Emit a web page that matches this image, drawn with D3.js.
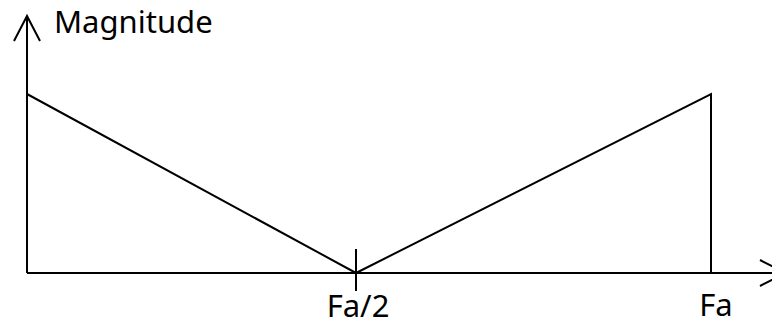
<!DOCTYPE html>
<html>
<head>
<meta charset="utf-8">
<script src="https://cdn.jsdelivr.net/npm/d3@7"></script>
<style>
  body { margin: 0; background: #fff; }
  text { font-family: "Noto Sans", sans-serif; fill: #000; }
</style>
</head>
<body>
<svg id="chart"></svg>
<script>
// spectrum outline: frequency (0..100 = 0..Fa) vs magnitude
const freqs = [0, 48.1, 100];
const mags = [1, 0, 1];
const tickFreqs = [48.1, 100];
const tickLabels = ["Fa/2", "Fa"];

const width = 772, height = 325;
const svg = d3.select("#chart").attr("width", width).attr("height", height);

const x = d3.scaleLinear().domain([0, 100]).range([27, 711]);
const y = d3.scaleLinear().domain([0, 1]).range([273, 94]);

const stroke = "#000";

// axes
svg.append("line")
    .attr("x1", x(0)).attr("y1", y(0))
    .attr("x2", x(0)).attr("y2", 16)
    .attr("stroke", stroke).attr("stroke-width", 2);
svg.append("path")
    .attr("d", `M${x(0) - 13},41 L${x(0)},16 L${x(0) + 13},41`)
    .attr("fill", "none").attr("stroke", stroke).attr("stroke-width", 2);

svg.append("line")
    .attr("x1", x(0)).attr("y1", y(0))
    .attr("x2", 785).attr("y2", y(0))
    .attr("stroke", stroke).attr("stroke-width", 2);
svg.append("path")
    .attr("d", `M760,${y(0) - 13} L785,${y(0)} L760,${y(0) + 13}`)
    .attr("fill", "none").attr("stroke", stroke).attr("stroke-width", 2);

svg.append("text")
    .attr("x", 54).attr("y", 33)
    .style("font-size", "31px")
    .text("Magnitude");

// spectrum
const pts = freqs.map((f, i) => [f, mags[i]]);
pts.push([100, 0]);
const line = d3.line().x(d => x(d[0])).y(d => y(d[1]));
svg.append("path")
    .attr("d", line(pts))
    .attr("fill", "none").attr("stroke", stroke).attr("stroke-width", 2)
    .attr("stroke-linejoin", "miter");

// ticks
svg.append("line")
    .attr("x1", x(tickFreqs[0])).attr("x2", x(tickFreqs[0]))
    .attr("y1", 249).attr("y2", 291)
    .attr("stroke", stroke).attr("stroke-width", 2);

svg.selectAll(".tl")
    .data(tickFreqs)
    .join("text")
    .attr("class", "tl")
    .attr("x", (d, i) => x(d) + (i === 1 ? 5 : 2))
    .attr("y", (d, i) => i === 0 ? 317 : 316)
    .attr("text-anchor", "middle")
    .style("font-size", "31px")
    .text((d, i) => tickLabels[i]);
</script>
</body>
</html>
